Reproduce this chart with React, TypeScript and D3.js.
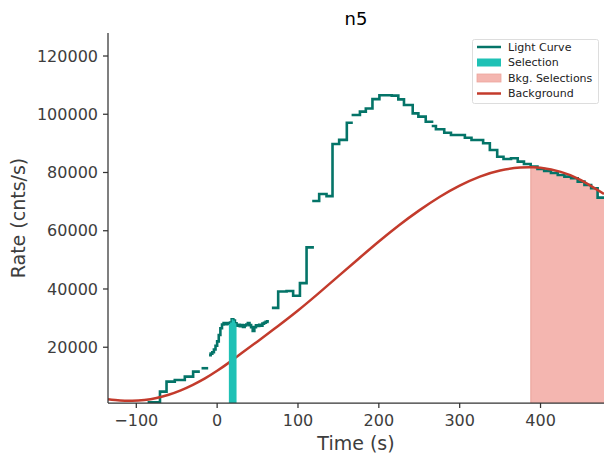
import React from "react";
import * as d3 from "d3";

// Light curve bins: start (s), end (s), rate (cnts/s)
const lcStart = [
  -86, -70.7, -62.6, -52.4, -40, -29.7, -19.3,
  -10, -8, -6, -4, -2, 0, 2, 4, 6, 8, 10, 12, 14, 16, 18, 20, 22, 24, 26, 28, 30, 32, 34, 36, 38, 40, 42, 44, 46, 48, 50, 52, 54, 56, 58, 60, 62,
  67.7, 75.5, 85.9, 94, 102.4, 110.6,
  117.6, 126.2, 135.3, 142.7, 150.9, 160.4,
  166.3, 176.6, 183.9, 192.1, 200.7, 216, 224.1, 231.1, 241.9, 248.9, 258,
  265.4, 270.6, 280.9, 289.2, 306.4, 314.6, 329, 337.3, 346.4, 354.2, 363.5, 371.8, 379.5, 387.8, 396.2, 404.5, 412.9, 421.3, 429.5, 437.8, 446, 454.3, 462.6, 470.6,
];
const lcEnd = [
  -70.7, -62.6, -52.4, -40, -29.7, -21.4, -11.1,
  -8, -6, -4, -2, 0, 2, 4, 6, 8, 10, 12, 14, 16, 18, 20, 22, 24, 26, 28, 30, 32, 34, 36, 38, 40, 42, 44, 46, 48, 50, 52, 54, 56, 58, 60, 62, 64,
  75.5, 85.9, 94, 102.4, 110.6, 119.7,
  126.2, 135.3, 142.7, 150.9, 160.4, 167.8,
  176.6, 183.9, 192.1, 200.7, 216, 224.1, 231.1, 241.9, 248.9, 258, 267.4,
  270.6, 280.9, 289.2, 306.4, 314.6, 329, 337.3, 346.4, 354.2, 363.5, 371.8, 379.5, 387.8, 396.2, 404.5, 412.9, 421.3, 429.5, 437.8, 446, 454.3, 462.6, 470.6, 478.5,
];
const lcRate = [
  1100, 4760, 8190, 8770, 9910, 11620, 12790,
  17300, 17800, 18300, 19200, 20500, 22000, 24200, 26500, 27800, 28300, 27900, 28300, 28000, 28500, 29600, 29200, 28200, 27400, 27700, 27200, 27600, 27000, 27500, 27800, 28300, 27600, 26900, 25600, 26900, 27500, 27300, 27700, 27400, 28100, 28400, 28700, 28900,
  33500, 39150, 39300, 37700, 42000, 54300,
  70200, 72600, 71900, 89800, 91200, 97100,
  99750, 100900, 102000, 105200, 106500, 106400, 105100, 103200, 100300, 99200, 97400,
  95970, 94840, 93670, 92880, 91950, 91170, 90030, 87730, 85430, 84640, 84880, 83720, 82930, 82000, 81200, 80500, 79840, 79150, 78570, 78020, 76850, 75720, 74580, 71360,
];

// Background model curve samples
const bkgTime = [-135, -120, -105, -90, -75, -60, -45, -30, -15, 0, 15, 30, 50, 75, 100, 125, 150, 175, 200, 225, 250, 275, 300, 325, 350, 375, 390, 400, 425, 450, 478.5];
const bkgRate = [2100, 1700, 1600, 1900, 2600, 3700, 5200, 7100, 9300, 11900, 14800, 17900, 22000, 27200, 32600, 38400, 44400, 50400, 56300, 61900, 67000, 71600, 75500, 78600, 80700, 81700, 81800, 81600, 80200, 77400, 72600];

const selectionRange = [14.5, 24];
const bkgSelectionRange = [388, 478.5];

const xTicks = [-100, 0, 100, 200, 300, 400];
const yTicks = [20000, 40000, 60000, 80000, 100000, 120000];

const legendLabels = ["Light Curve", "Selection", "Bkg. Selections", "Background"];

const W = 613;
const H = 465;
const L = 108, R = 604, T = 33, B = 403;
const FONT = "DejaVu Sans, sans-serif";
const TEAL = "#047468";
const SEL = "#1fc1b5";
const PINK = "#f4b6b0";
const RED = "#c33b2c";
const TXT = "#3d3d3d";

export default function App() {
  const x = d3.scaleLinear().domain([-135, 478.5]).range([L, R]);
  const y = d3.scaleLinear().domain([850, 127900]).range([B, T]);

  const segments: { s: number; e: number; v: number }[][] = [];
  let cur: { s: number; e: number; v: number }[] = [];
  lcStart.forEach((s, i) => {
    const bin = { s, e: lcEnd[i], v: lcRate[i] };
    if (cur.length && Math.abs(cur[cur.length - 1].e - s) > 0.01) {
      segments.push(cur);
      cur = [];
    }
    cur.push(bin);
  });
  if (cur.length) segments.push(cur);

  const stepPts = (seg: { s: number; e: number; v: number }[]) =>
    seg.flatMap((b) => [[b.s, b.v], [b.e, b.v]] as [number, number][]);

  const line = d3.line<[number, number]>().x((d) => x(d[0])).y((d) => y(d[1]));
  const area = d3
    .area<[number, number]>()
    .x((d) => x(d[0]))
    .y0(B)
    .y1((d) => y(d[1]));

  const bkgLine = d3
    .line<number>()
    .x((_, i) => x(bkgTime[i]))
    .y((d) => y(d))
    .curve(d3.curveNatural);

  const allPts = stepPts(segments.flat());

  return (
    <svg
      width={W}
      height={H}
      style={{ position: "fixed", left: 0, top: 0, display: "block", background: "#fff" }}
      fontFamily={FONT}
    >
      <defs>
        <clipPath id="plot">
          <rect x={L} y={T} width={R - L} height={B - T} />
        </clipPath>
        <clipPath id="sel">
          <rect x={x(selectionRange[0])} y={T} width={x(selectionRange[1]) - x(selectionRange[0])} height={B - T} />
        </clipPath>
        <clipPath id="bsel">
          <rect x={x(bkgSelectionRange[0])} y={T} width={x(bkgSelectionRange[1]) - x(bkgSelectionRange[0])} height={B - T} />
        </clipPath>
      </defs>

      <g clipPath="url(#plot)">
        <g clipPath="url(#bsel)">
          <path d={area(allPts) || ""} fill={PINK} />
        </g>
        <line
          x1={x(bkgSelectionRange[0])}
          x2={x(bkgSelectionRange[0])}
          y1={B}
          y2={y(82000)}
          stroke="#e9a199"
          strokeWidth={1}
        />
        {segments.map((seg, i) => (
          <path key={i} d={line(stepPts(seg)) || ""} fill="none" stroke={TEAL} strokeWidth={2.6} strokeLinejoin="miter" />
        ))}
        <path d={bkgLine(bkgRate) || ""} fill="none" stroke={RED} strokeWidth={2.5} />
        <g clipPath="url(#sel)">
          <path d={area(allPts) || ""} fill={SEL} />
        </g>
      </g>

      <line x1={L} x2={L} y1={T} y2={B} stroke="#333" strokeWidth={1.25} />
      <line x1={L} x2={R} y1={B} y2={B} stroke="#333" strokeWidth={1.25} />

      {xTicks.map((t) => (
        <g key={t} transform={`translate(${x(t)},${B})`}>
          <line y1={0} y2={5} stroke="#333" strokeWidth={1.25} />
          <text y={23} textAnchor="middle" fontSize={16} fill={TXT}>
            {t < 0 ? `\u2212${Math.abs(t)}` : t}
          </text>
        </g>
      ))}
      {yTicks.map((t) => (
        <g key={t} transform={`translate(${L},${y(t)})`}>
          <line x1={0} x2={-5} stroke="#333" strokeWidth={1.25} />
          <text x={-10} dy="0.35em" textAnchor="end" fontSize={16} fill={TXT}>
            {t}
          </text>
        </g>
      ))}

      <text x={(L + R) / 2} y={450} textAnchor="middle" fontSize={19} fill={TXT}>
        Time (s)
      </text>
      <text
        transform={`translate(25,${(T + B) / 2}) rotate(-90)`}
        textAnchor="middle"
        fontSize={19}
        fill={TXT}
      >
        Rate (cnts/s)
      </text>
      <text x={(L + R) / 2} y={25} textAnchor="middle" fontSize={18} fill="#000">
        n5
      </text>

      <g>
        <rect x={472.5} y={39.5} width={126} height={64} rx={2} fill="#fff" fillOpacity={0.8} stroke="#ddd" />
        {legendLabels.map((lab, i) => {
          const cy = 47 + i * 15.5;
          return (
            <g key={lab}>
              {i === 0 && <line x1={477} x2={501} y1={cy} y2={cy} stroke={TEAL} strokeWidth={2.5} />}
              {i === 1 && <rect x={477} y={cy - 4} width={24} height={8} fill={SEL} />}
              {i === 2 && <rect x={477} y={cy - 4} width={24} height={8} fill={PINK} stroke="#eda59d" strokeWidth={0.8} />}
              {i === 3 && <line x1={477} x2={501} y1={cy} y2={cy} stroke={RED} strokeWidth={2.5} />}
              <text x={508} y={cy} dy="0.35em" fontSize={11} fill="#222">
                {lab}
              </text>
            </g>
          );
        })}
      </g>
    </svg>
  );
}
